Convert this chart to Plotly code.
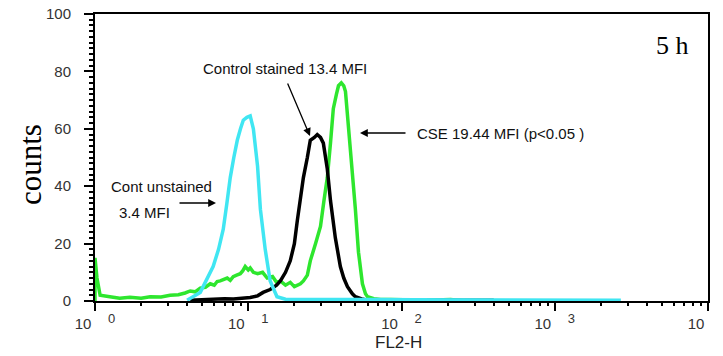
import plotly.graph_objects as go

# ---- data (FL2-H channel value, counts) ----
unstained_x = [3.99, 4.4, 4.86, 5.3, 5.9, 6.4, 6.87, 7.25, 7.63, 8.05, 8.48, 8.9, 9.28, 9.8, 10.3, 10.8, 11.1, 11.5, 12.0, 12.9, 13.9, 15.4, 17.5, 25, 40, 70, 120, 300, 700, 1500, 2700]
unstained_y = [0.3, 1.5, 3, 7, 12, 18, 25, 34, 43, 50, 56, 60, 63, 64, 64.5, 60, 54, 47, 32, 18, 7, 1.5, 0.6, 0.5, 0.4, 0.5, 0.4, 0.4, 0.3, 0.4, 0.3]

control_x = [4.18, 5.0, 6.0, 7.0, 8.0, 9.0, 10.3, 11.5, 12.5, 13.9, 14.4, 15.3, 16.2, 17.5, 18.8, 20.0, 20.9, 22.0, 22.9, 24.3, 25.4, 27.0, 28.2, 29.6, 30.9, 32.8, 34.4, 37.0, 39.9, 42.0, 44.4, 47.8, 50.0, 55.0, 60.0, 100, 400]
control_y = [0.3, 0.5, 0.6, 0.8, 0.7, 1.0, 1.2, 1.8, 3, 4, 4.5, 5.5, 7, 10, 14, 20, 28, 36, 43, 50, 56, 57, 58, 57, 55, 46, 35, 22, 12, 8, 5, 2.5, 1.5, 0.7, 0.3, 0.3, 0.3]

cse_x = [1.0, 1.0, 1.03, 1.08, 1.25, 1.45, 1.69, 2.0, 2.29, 2.7, 3.09, 3.5, 3.87, 4.18, 4.5, 4.86, 5.25, 5.65, 6.0, 6.27, 6.56, 6.87, 7.29, 7.63, 7.98, 8.4, 8.87, 9.2, 9.55, 10.0, 10.3, 10.8, 11.5, 12.4, 13.3, 14.4, 15.3, 16.2, 17.5, 18.8, 20.0, 21.9, 22.9, 24.3, 25.4, 27.5, 29.6, 31.2, 32.8, 34.4, 35.9, 37.6, 38.8, 40.5, 42.0, 43.1, 45.1, 47.8, 50.0, 52.4, 55.6, 58.2, 60.0, 66, 73, 85, 98, 120, 150, 209, 260]
cse_y = [0, 15, 8, 2, 1.5, 1, 1.3, 1, 1.5, 1.4, 2, 2.2, 2.8, 3.5, 3.2, 4.5, 4.8, 6, 5.5, 6.8, 7, 7.5, 8, 7.2, 8.5, 9, 9.5, 10.5, 12, 10.8, 11.5, 10, 9.5, 10, 8, 8.5, 6.5, 7, 5.5, 6.5, 5, 6, 7, 9, 14, 20, 26, 35, 43, 55, 67, 72, 75, 76, 75, 73, 61, 46, 32, 17, 6, 2.5, 1.5, 0.8, 0.5, 0.5, 0.4, 0.5, 0.3, 0.5, 0]

x_tick_vals = [1, 10, 100, 1000, 10000]
x_tick_exps = ["0", "1", "2", "3", "4"]
y_tick_vals = [0, 20, 40, 60, 80, 100]

x_tick_text = ["10&nbsp;&nbsp;&nbsp;&nbsp;<sup><span style='font-size:13px'>%s</span></sup>" % e for e in x_tick_exps]
minor_x = [m * 10 ** k for k in range(4) for m in range(2, 10)]

# the page body adds an 8 px offset; the margins below place the plot area
# at screen x 95..708 and y 14..301
OFF = 8
W, H = 723, 356
L, R, T, B = 95 - OFF, W - (708 - OFF), 14 - OFF, H - (301 - OFF)

fig = go.Figure()
fig.add_trace(go.Scatter(x=cse_x, y=cse_y, mode="lines",
                         line=dict(color="#2EE62E", width=3.5), showlegend=False))
fig.add_trace(go.Scatter(x=control_x, y=control_y, mode="lines",
                         line=dict(color="#000000", width=3.5), showlegend=False))
fig.add_trace(go.Scatter(x=unstained_x, y=unstained_y, mode="lines",
                         line=dict(color="#40E6F2", width=3.5), showlegend=False))
# carrier for the minor-tick overlay axes
fig.add_trace(go.Scatter(x=[None], y=[None], xaxis="x2", yaxis="y2", mode="lines",
                         showlegend=False, hoverinfo="skip"))

fig.update_layout(
    width=W, height=H,
    margin=dict(l=L, r=R, t=T, b=B, autoexpand=False),
    paper_bgcolor="white", plot_bgcolor="white",
    font=dict(family="Liberation Sans, Arial, sans-serif", color="#222"),
    xaxis=dict(
        type="log", range=[0, 4], automargin=False,
        tickmode="array", tickvals=x_tick_vals, ticktext=x_tick_text, ticklabeloverflow="allow",
        tickfont=dict(size=15, color="#333"),
        ticks="outside", ticklen=8, tickwidth=2, tickcolor="black",
        showgrid=False, zeroline=False,
        showline=True, linecolor="black", linewidth=2, mirror=True,
    ),
    yaxis=dict(
        range=[0, 100], tickmode="array", tickvals=y_tick_vals, automargin=False,
        ticklabeloverflow="allow",
        tickfont=dict(size=15, color="#333"),
        ticks="outside", ticklen=9, tickwidth=2, tickcolor="black",
        ticklabelstandoff=10,
        showgrid=False, zeroline=False,
        showline=True, linecolor="black", linewidth=2, mirror=True,
    ),
    xaxis2=dict(
        type="log", range=[0, 4], overlaying="x", anchor="y", side="bottom", automargin=False,
        tickmode="array", tickvals=minor_x, showticklabels=False,
        ticks="outside", ticklen=4, tickwidth=2, tickcolor="black",
        showgrid=False, zeroline=False, showline=False,
    ),
    yaxis2=dict(
        range=[0, 100], overlaying="y", anchor="x", side="left", automargin=False,
        tickmode="linear", tick0=0, dtick=2, showticklabels=False,
        ticks="outside", ticklen=5, tickwidth=2, tickcolor="black",
        showgrid=False, zeroline=False, showline=False,
    ),
)

def paper_x(px):
    return (px - 95) / 613.0

def paper_y(py):
    return (301 - py) / 287.0

txt_font = dict(family="Liberation Sans, Arial, sans-serif", size=15, color="#111")
ann = []
ann.append(dict(text="Control stained 13.4 MFI", x=paper_x(201), y=paper_y(68), xref="paper", yref="paper",
                xanchor="left", yanchor="middle", showarrow=False, font=txt_font))
ann.append(dict(text="CSE 19.44 MFI (p&lt;0.05 )", x=paper_x(415), y=paper_y(133), xref="paper", yref="paper",
                xanchor="left", yanchor="middle", showarrow=False, font=txt_font))
ann.append(dict(text="Cont unstained", x=paper_x(109), y=paper_y(187), xref="paper", yref="paper",
                xanchor="left", yanchor="middle", showarrow=False, font=txt_font))
ann.append(dict(text="3.4 MFI", x=paper_x(117), y=paper_y(212), xref="paper", yref="paper",
                xanchor="left", yanchor="middle", showarrow=False, font=txt_font))
ann.append(dict(text="5 h", x=paper_x(691), y=paper_y(45), xref="paper", yref="paper",
                xanchor="right", yanchor="middle", showarrow=False,
                font=dict(family="Liberation Serif, Times New Roman, serif", size=26, color="#000")))
ann.append(dict(text="counts", x=paper_x(30), y=paper_y(165), xref="paper", yref="paper",
                xanchor="center", yanchor="middle", textangle=-90, showarrow=False,
                font=dict(family="Liberation Serif, Times New Roman, serif", size=31, color="#000")))
ann.append(dict(text="FL2-H", x=paper_x(398), y=paper_y(342), xref="paper", yref="paper",
                xanchor="center", yanchor="middle", showarrow=False,
                font=dict(family="Liberation Sans, Arial, sans-serif", size=17, color="#222")))
# arrows
for tip, start in [((310, 136), (287, 82)), ((360, 133), (407, 133)), ((216, 203), (178, 203))]:
    ann.append(dict(text="", x=paper_x(tip[0]), y=paper_y(tip[1]), xref="paper", yref="paper",
                    ax=start[0] - tip[0], ay=start[1] - tip[1], axref="pixel", ayref="pixel",
                    showarrow=True, arrowhead=2, arrowsize=1.2, arrowwidth=1.3, arrowcolor="#000"))
fig.update_layout(annotations=ann)

fig.write_html("out.html")
